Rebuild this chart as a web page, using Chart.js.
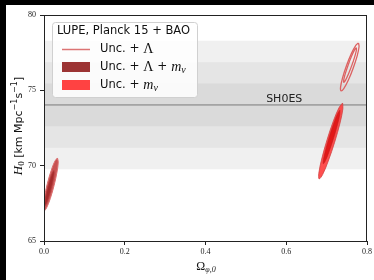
<!DOCTYPE html>
<html>
<head>
<meta charset="utf-8">
<script src="https://cdn.jsdelivr.net/npm/chart.js@4.4.1/dist/chart.umd.min.js"></script>
<style>
  html, body { margin: 0; padding: 0; background: #000; }
  #wrap { position: absolute; left: 6px; top: 5px; width: 368px; height: 275px; background: #fff; }
</style>
</head>
<body>
<div id="wrap"><canvas id="chart" width="368" height="275"></canvas></div>
<script>
// SH0ES H0 bands (1, 2, 3 sigma)
const shoesH0 = 74.03;
const shoesBandLow = [72.61, 71.19, 69.77];
const shoesBandHigh = [75.45, 76.87, 78.29];

// Unc. + Lambda + m_nu, near Omega_phi = 0 (95% and 68%)
const nuLamOuterX = [0.0333, 0.0353, 0.0322, 0.0250, 0.0156, 0.0064, 0.0000, -0.0020, 0.0011, 0.0083, 0.0178, 0.0269];
const nuLamOuterY = [70.51, 70.24, 69.58, 68.69, 67.82, 67.20, 66.99, 67.26, 67.92, 68.81, 69.68, 70.30];
const nuLamInnerX = [0.0245, 0.0252, 0.0228, 0.0179, 0.0118, 0.0062, 0.0026, 0.0019, 0.0044, 0.0093, 0.0153, 0.0209];
const nuLamInnerY = [69.68, 69.51, 69.07, 68.49, 67.91, 67.50, 67.36, 67.53, 67.96, 68.55, 69.12, 69.53];

// Unc. + m_nu, near Omega_phi = 0.72
const nuOuterX = [0.7395, 0.7403, 0.7332, 0.7199, 0.7041, 0.6901, 0.6815, 0.6806, 0.6878, 0.7011, 0.7168, 0.7309];
const nuOuterY = [74.16, 73.78, 72.83, 71.56, 70.31, 69.41, 69.12, 69.49, 70.44, 71.72, 72.97, 73.86];
const nuInnerX = [0.7328, 0.7326, 0.7271, 0.7175, 0.7066, 0.6973, 0.6919, 0.6921, 0.6977, 0.7072, 0.7181, 0.7274];
const nuInnerY = [73.68, 73.42, 72.75, 71.86, 70.98, 70.34, 70.13, 70.39, 71.05, 71.95, 72.83, 73.46];

// Unc. + Lambda, line contours top right
const lamOuterX = [0.7790, 0.7803, 0.7755, 0.7657, 0.7539, 0.7429, 0.7358, 0.7345, 0.7394, 0.7491, 0.7610, 0.7719];
const lamOuterY = [78.14, 77.89, 77.27, 76.47, 75.68, 75.13, 74.96, 75.21, 75.82, 76.63, 77.42, 77.97];
const lamInnerX = [0.7737, 0.7737, 0.7695, 0.7622, 0.7538, 0.7466, 0.7424, 0.7424, 0.7466, 0.7538, 0.7622, 0.7695];
const lamInnerY = [77.84, 77.66, 77.22, 76.64, 76.07, 75.66, 75.53, 75.70, 76.14, 76.72, 77.29, 77.70];

const xTicks = [0, 0.2, 0.4, 0.6, 0.8];
const yTicks = [65, 70, 75, 80];

const SANS = '"DejaVu Sans"';
const SERIF = '"Liberation Serif"';
const MATH = '"DejaVu Serif"';

function closed(xs, ys) {
  const pts = xs.map((x, i) => ({ x: x, y: ys[i] }));
  pts.push({ x: xs[0], y: ys[0] });
  return pts;
}

function shape(xs, ys, fillColor, lineColor, lineWidth, order) {
  return {
    data: closed(xs, ys),
    showLine: true,
    tension: 0.35,
    fill: fillColor ? 'shape' : false,
    backgroundColor: fillColor || 'transparent',
    borderColor: lineColor,
    borderWidth: lineWidth,
    pointRadius: 0,
    order: order
  };
}

const bandColors = ['#dadada', '#e5e5e5', '#f0f0f0'];
const datasets = [];
for (let i = 2; i >= 0; i--) {
  datasets.push({
    data: [{ x: 0, y: shoesBandHigh[i] }, { x: 0.8, y: shoesBandHigh[i] }],
    showLine: true,
    fill: { value: shoesBandLow[i] },
    backgroundColor: bandColors[i],
    borderWidth: 0,
    pointRadius: 0,
    order: 20 + i
  });
}
datasets.push({
  data: [{ x: 0, y: shoesH0 }, { x: 0.8, y: shoesH0 }],
  showLine: true,
  borderColor: '#7a7a7a',
  borderWidth: 1,
  pointRadius: 0,
  order: 15
});
datasets.push(shape(nuLamOuterX, nuLamOuterY, 'rgba(195,65,65,0.9)', '#dc7070', 1, 8));
datasets.push(shape(nuLamInnerX, nuLamInnerY, '#a52a2a', '#b03a3a', 0.8, 7));
datasets.push(shape(nuOuterX, nuOuterY, 'rgba(255,55,55,0.88)', '#d04545', 0.8, 6));
datasets.push(shape(nuInnerX, nuInnerY, '#e21818', '#c02020', 0.6, 5));
datasets.push(shape(lamOuterX, lamOuterY, null, '#dc6262', 1.3, 4));
datasets.push(shape(lamInnerX, lamInnerY, null, '#dc6262', 1.3, 3));

function drawRuns(ctx, runs, x, y, align) {
  let total = 0;
  runs.forEach(r => { ctx.font = r.font; total += ctx.measureText(r.t).width; });
  let cx = align === 'center' ? x - total / 2 : x;
  ctx.textAlign = 'left';
  ctx.textBaseline = 'middle';
  runs.forEach(r => {
    ctx.font = r.font;
    ctx.fillText(r.t, cx, y + (r.dy || 0));
    cx += ctx.measureText(r.t).width;
  });
}

const decor = {
  id: 'decor',
  afterDraw(chart) {
    const ctx = chart.ctx;
    const a = chart.chartArea;
    const xs = chart.scales.x, ys = chart.scales.y;
    ctx.save();
    // frame
    ctx.strokeStyle = '#222';
    ctx.lineWidth = 1;
    ctx.strokeRect(a.left + 0.5, a.top + 0.5, a.right - a.left - 1, a.bottom - a.top);

    // SH0ES label
    ctx.fillStyle = '#222';
    ctx.font = '11px ' + SANS;
    ctx.textAlign = 'center';
    ctx.textBaseline = 'alphabetic';
    ctx.fillText('SH0ES', xs.getPixelForValue(0.595), ys.getPixelForValue(shoesH0) - 3);

    // legend box
    const lx = 46, ly = 17, lw = 145, lh = 75;
    ctx.fillStyle = 'rgba(255,255,255,0.85)';
    ctx.strokeStyle = '#d0d0d0';
    ctx.beginPath();
    ctx.roundRect(lx + 0.5, ly + 0.5, lw, lh, 3);
    ctx.fill();
    ctx.stroke();

    ctx.fillStyle = '#111';
    drawRuns(ctx, [{ t: 'LUPE, Planck 15 + BAO', font: '11.5px ' + SANS }], 51, 26);

    ctx.strokeStyle = '#dc7474';
    ctx.lineWidth = 1.5;
    ctx.beginPath();
    ctx.moveTo(56, 44.5);
    ctx.lineTo(84, 44.5);
    ctx.stroke();
    ctx.fillStyle = '#9c3434';
    ctx.fillRect(56, 57, 28, 10);
    ctx.fillStyle = '#ff4242';
    ctx.fillRect(56, 75, 28, 10);

    ctx.fillStyle = '#111';
    drawRuns(ctx, [
      { t: 'Unc.', font: '11.5px ' + SANS },
      { t: ' + ', font: '12px ' + MATH },
      { t: 'Λ', font: '14px ' + SERIF }
    ], 94, 44);
    drawRuns(ctx, [
      { t: 'Unc.', font: '11.5px ' + SANS },
      { t: ' + ', font: '12px ' + MATH },
      { t: 'Λ', font: '14px ' + SERIF },
      { t: ' + ', font: '12px ' + MATH },
      { t: 'm', font: 'italic 14px ' + SERIF },
      { t: 'ν', font: 'italic 10px ' + SERIF, dy: 3 }
    ], 94, 62);
    drawRuns(ctx, [
      { t: 'Unc.', font: '11.5px ' + SANS },
      { t: ' + ', font: '12px ' + MATH },
      { t: 'm', font: 'italic 14px ' + SERIF },
      { t: 'ν', font: 'italic 10px ' + SERIF, dy: 3 }
    ], 94, 80);

    // axis titles
    ctx.fillStyle = '#111';
    drawRuns(ctx, [
      { t: 'Ω', font: '12px ' + SERIF },
      { t: 'φ,0', font: 'italic 8px ' + SERIF, dy: 3 }
    ], 200, 262, 'center');

    ctx.translate(13, 121);
    ctx.rotate(-Math.PI / 2);
    drawRuns(ctx, [
      { t: 'H', font: 'italic 13px ' + SERIF },
      { t: '0', font: '9px ' + SERIF, dy: 3 },
      { t: ' [km Mpc', font: '11px ' + SANS },
      { t: '−1', font: '8px ' + SANS, dy: -4 },
      { t: 's', font: '11px ' + SANS },
      { t: '−1', font: '8px ' + SANS, dy: -4 },
      { t: ']', font: '11px ' + SANS }
    ], 0, 0, 'center');
    ctx.restore();
  }
};

new Chart(document.getElementById('chart'), {
  type: 'scatter',
  data: { datasets: datasets },
  options: {
    responsive: false,
    animation: false,
    layout: { padding: { top: 10, right: 6, left: 0, bottom: 0 } },
    plugins: { legend: { display: false }, tooltip: { enabled: false } },
    elements: { point: { radius: 0 } },
    scales: {
      x: {
        type: 'linear', min: 0, max: 0.8,
        afterBuildTicks: s => { s.ticks = xTicks.map(v => ({ value: v })); },
        afterFit: s => { s.height = 39; },
        ticks: { callback: v => v.toFixed(1), color: '#222', font: { family: 'Liberation Serif', size: 8 }, padding: 2, maxRotation: 0 },
        grid: { drawOnChartArea: false, tickLength: 4, tickColor: '#222' },
        border: { color: '#222' }
      },
      y: {
        type: 'linear', min: 65, max: 80,
        afterBuildTicks: s => { s.ticks = yTicks.map(v => ({ value: v })); },
        afterFit: s => { s.width = 38; },
        ticks: { color: '#222', font: { family: 'Liberation Serif', size: 8 }, padding: 4 },
        grid: { drawOnChartArea: false, tickLength: 4, tickColor: '#222' },
        border: { color: '#222' }
      }
    }
  },
  plugins: [decor]
});
</script>
</body>
</html>
